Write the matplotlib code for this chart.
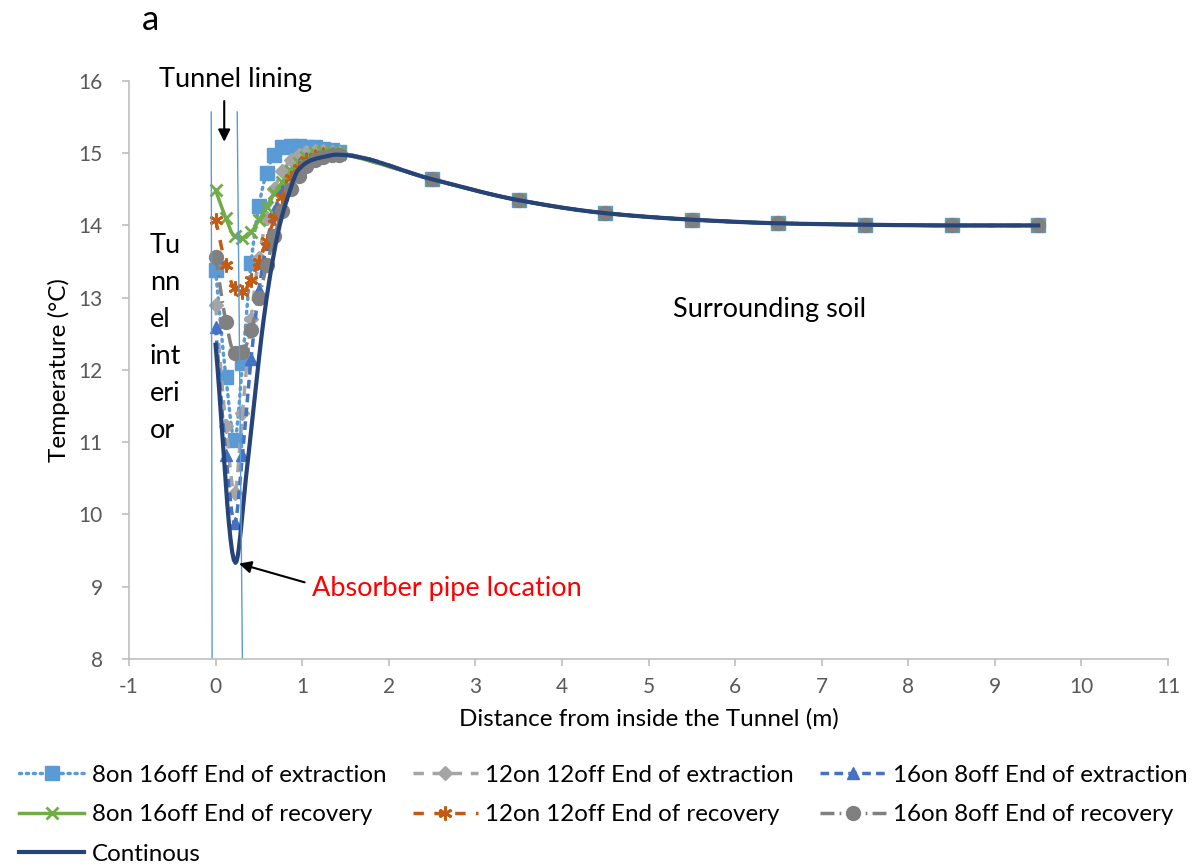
import matplotlib
matplotlib.use("Agg")
import matplotlib.pyplot as plt
from matplotlib.lines import Line2D
import numpy as np

plt.rcParams['font.family'] = ['Lato', 'DejaVu Sans']
plt.rcParams['axes.unicode_minus'] = False

# distances (m) of the sampled points
x_near = [0, 0.12, 0.22, 0.31, 0.41, 0.50, 0.59, 0.68, 0.77, 0.87, 0.96, 1.05, 1.15, 1.24, 1.34, 1.43]
x_far = [2.5, 3.5, 4.5, 5.5, 6.5, 7.5, 8.5, 9.5]
t_far = [14.64, 14.35, 14.17, 14.08, 14.03, 14.01, 14.00, 14.00]

ext_8_16 = [13.38, 11.90, 11.03, 12.10, 13.48, 14.27, 14.73, 14.98, 15.08, 15.10, 15.10, 15.09, 15.08, 15.06, 15.04, 15.02]
ext_12_12 = [12.90, 11.22, 10.30, 11.40, 12.70, 13.55, 14.10, 14.50, 14.75, 14.90, 14.98, 15.02, 15.03, 15.03, 15.02, 15.00]
ext_16_8 = [12.60, 10.82, 9.88, 10.82, 12.15, 13.10, 13.75, 14.20, 14.50, 14.72, 14.85, 14.93, 14.98, 15.00, 15.00, 14.99]
rec_8_16 = [14.49, 14.10, 13.85, 13.83, 13.91, 14.07, 14.26, 14.45, 14.60, 14.75, 14.86, 14.95, 15.00, 15.02, 15.02, 15.00]
rec_12_12 = [14.08, 13.45, 13.13, 13.08, 13.25, 13.50, 13.78, 14.10, 14.40, 14.66, 14.80, 14.90, 14.95, 14.97, 14.98, 14.98]
rec_16_8 = [13.57, 12.67, 12.23, 12.25, 12.55, 12.99, 13.45, 13.85, 14.20, 14.50, 14.68, 14.82, 14.90, 14.95, 14.97, 14.98]

x_cont = [0, 0.23, 0.35, 0.45, 0.55, 0.65, 0.75, 0.85, 0.95, 1.10, 1.25, 1.40]
t_cont = [12.35, 9.33, 10.50, 11.60, 12.65, 13.45, 14.05, 14.45, 14.76, 14.90, 14.95, 14.98]

# tunnel lining boundaries (drawn lines)
lining_x_top = [-0.05, 0.25]
lining_x_bot = [-0.04, 0.31]
lining_y = [15.57, 8.0]


def smooth(x, y, n=12):
    # monotone cubic (Fritsch-Carlson) so the lines look like Excel smoothed lines
    x = np.asarray(x, float)
    y = np.asarray(y, float)
    h = np.diff(x)
    d = np.diff(y) / h
    m = np.zeros(len(x))
    m[0] = d[0]
    m[-1] = d[-1]
    for k in range(1, len(x) - 1):
        if d[k - 1] * d[k] <= 0:
            m[k] = 0
        else:
            w1 = 2 * h[k] + h[k - 1]
            w2 = h[k] + 2 * h[k - 1]
            m[k] = (w1 + w2) / (w1 / d[k - 1] + w2 / d[k])
    xs, ys = [], []
    t = np.linspace(0, 1, n, endpoint=False)
    for k in range(len(x) - 1):
        h00 = 2 * t**3 - 3 * t**2 + 1
        h10 = t**3 - 2 * t**2 + t
        h01 = -2 * t**3 + 3 * t**2
        h11 = t**3 - t**2
        xs.append(x[k] + t * h[k])
        ys.append(h00 * y[k] + h10 * h[k] * m[k] + h01 * y[k + 1] + h11 * h[k] * m[k + 1])
    xs.append([x[-1]])
    ys.append([y[-1]])
    return np.concatenate(xs), np.concatenate(ys)


series = [
    ("8on 16off End of extraction", ext_8_16, '#5B9BD5', (0, (0.6, 1.4)), 's', 10, 1),
    ("12on 12off End of extraction", ext_12_12, '#A5A5A5', (0, (3, 2.5)), 'D', 7, 1),
    ("16on 8off End of extraction", ext_16_8, '#4472C4', (0, (2.5, 1.5)), '^', 9, 1),
    ("8on 16off End of recovery", rec_8_16, '#70AD47', '-', 'x', 9, 2),
    ("12on 12off End of recovery", rec_12_12, '#C55A11', (0, (3, 3)), (6, 2, 0), 10, 2),
    ("16on 8off End of recovery", rec_16_8, '#808080', (0, (4, 1.5, 0.5, 1.5)), 'o', 10, 1),
]

fig = plt.figure(figsize=(11.92, 8.65), dpi=100)
ax = fig.add_axes([0.1082, 0.2382, 0.8717, 0.6682])

handles = {}
for name, near, col, ls, mk, ms, mew in series:
    xx = x_near + x_far
    yy = near + t_far
    sx, sy = smooth(xx, yy)
    ax.plot(sx, sy, color=col, lw=2.5, ls=ls, dash_capstyle='round' if mk == 's' else 'butt')
    ax.plot(xx, yy, ls='none', marker=mk, ms=ms, color=col, mec=col, mew=mew)
    handles[name] = Line2D([], [], color=col, lw=2.5, ls=ls, marker=mk, ms=ms, mec=col, mew=mew,
                           dash_capstyle='round' if mk == 's' else 'butt')

cx, cy = smooth(x_cont + x_far, t_cont + t_far)
ax.plot(cx, cy, color='#264478', lw=3)
handles["Continous"] = Line2D([], [], color='#264478', lw=3)

for xt, xb in zip(lining_x_top, lining_x_bot):
    ax.plot([xt, xb], lining_y, color='#5B9BD5', lw=1)

ax.set_xlim(-1, 11)
ax.set_ylim(8, 16)
ax.set_xticks(range(-1, 12))
ax.set_yticks(range(8, 17))
for s in ['top', 'right']:
    ax.spines[s].set_visible(False)
for s in ['left', 'bottom']:
    ax.spines[s].set_color('#BFBFBF')
    ax.spines[s].set_linewidth(1.2)
ax.tick_params(colors='#BFBFBF', labelcolor='#595959', labelsize=15, length=5, width=1.2)
ax.tick_params(axis='x', pad=8)
ax.tick_params(axis='y', pad=14)
ax.set_xlabel("Distance from inside the Tunnel (m)", fontsize=17.5, labelpad=8)
ax.set_ylabel("Temperature (\u00b0C)", fontsize=17.5, labelpad=6)

ax.text(0.236, 16.02, "Tunnel lining", fontsize=19.5, ha='center', va='center', clip_on=False)
ax.annotate("", xy=(0.10, 15.12), xytext=(0.10, 15.76),
            arrowprops=dict(arrowstyle='-|>', color='black', lw=1.5, mutation_scale=18))
ax.text(-0.76, 13.9, "Tu\nnn\nel\nint\neri\nor", fontsize=19.5, ha='left', va='top', linespacing=1.6)
ax.text(6.4, 12.83, "Surrounding soil", fontsize=19.5, ha='center', va='center')
ax.text(1.11, 8.98, "Absorber pipe location", fontsize=19.5, color='red', ha='left', va='center')
ax.annotate("", xy=(0.24, 9.33), xytext=(1.06, 9.05),
            arrowprops=dict(arrowstyle='-|>', color='black', lw=1.5, mutation_scale=18))
fig.text(0.126, 0.977, "a", fontsize=25, ha='center', va='center')

order = ["8on 16off End of extraction", "8on 16off End of recovery", "Continous",
         "12on 12off End of extraction", "12on 12off End of recovery",
         "16on 8off End of extraction", "16on 8off End of recovery"]
fig.legend([handles[k] for k in order], order, loc='upper left', bbox_to_anchor=(0.008, 0.127),
           ncol=3, frameon=False, fontsize=17.4, handlelength=2.7, handletextpad=0.3,
           columnspacing=1.1, labelspacing=0.76, borderaxespad=0)

fig.savefig("out.png", dpi=100)
